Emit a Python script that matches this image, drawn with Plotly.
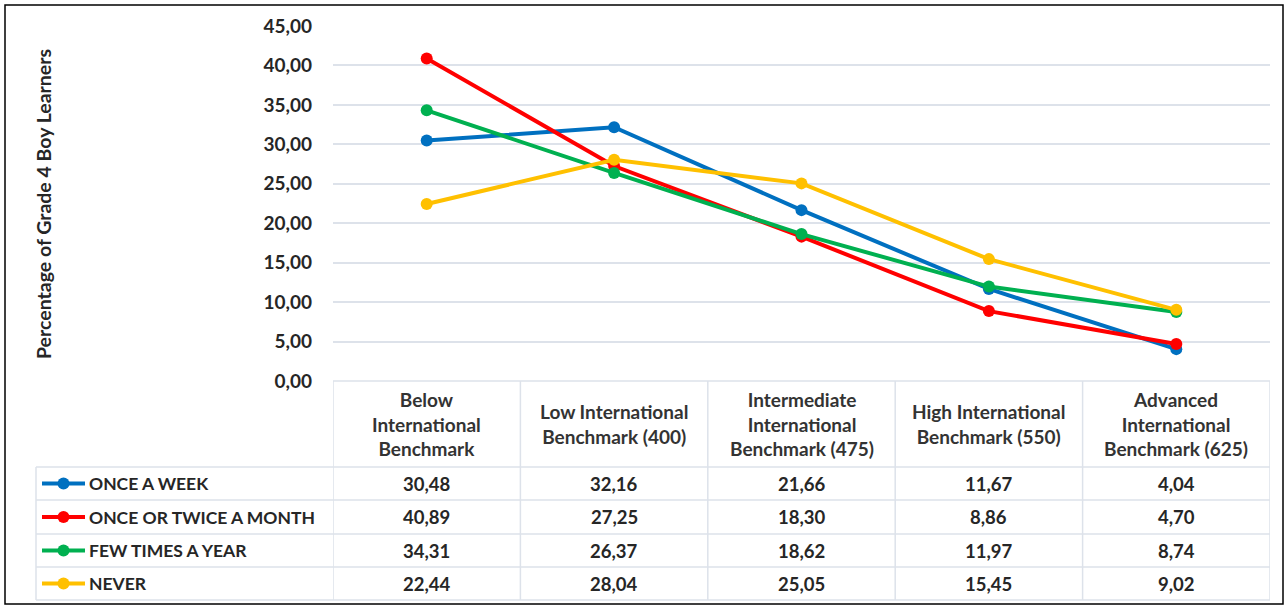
import plotly.graph_objects as go

# Benchmark categories (axis labels shown in the table header)
categories = [
    "Below<br>International<br>Benchmark",
    "Low International<br>Benchmark (400)",
    "Intermediate<br>International<br>Benchmark (475)",
    "High International<br>Benchmark (550)",
    "Advanced<br>International<br>Benchmark (625)",
]

series_names = ["ONCE A WEEK", "ONCE OR TWICE A MONTH", "FEW TIMES A YEAR", "NEVER"]
once_a_week = [30.48, 32.16, 21.66, 11.67, 4.04]
once_or_twice_a_month = [40.89, 27.25, 18.30, 8.86, 4.70]
few_times_a_year = [34.31, 26.37, 18.62, 11.97, 8.74]
never = [22.44, 28.04, 25.05, 15.45, 9.02]
series_values = [once_a_week, once_or_twice_a_month, few_times_a_year, never]
series_colors = ["#0070C0", "#FF0000", "#00B050", "#FFC000"]

y_ticks = [0, 5, 10, 15, 20, 25, 30, 35, 40, 45]

W, H = 1288, 608
FONT = "Lato"
TEXT = "#262626"
GRID = "#DDE2EA"


def px(x):
    return x / W


def py(y):
    return 1 - y / H


plot_left, plot_right = 333, 1270
plot_top, plot_bottom = 26, 381
table_left = 36
row_edges = [467, 500, 534, 567, 600]

fig = go.Figure()
xs = list(range(len(categories)))
for name, vals, col in zip(series_names, series_values, series_colors):
    fig.add_trace(go.Scatter(
        x=xs, y=vals, name=name, mode="lines+markers",
        line=dict(color=col, width=4),
        marker=dict(color=col, size=12),
        showlegend=False, hoverinfo="skip", cliponaxis=False,
    ))

shapes = []
annotations = []

# outer chart frame
shapes.append(dict(type="rect", xref="paper", yref="paper",
                   x0=px(5), x1=px(1283), y0=py(604), y1=py(5),
                   line=dict(color="#000000", width=1.5)))

# data table grid
line_style = dict(color=GRID, width=1.5)
shapes.append(dict(type="line", xref="paper", yref="paper",
                   x0=px(plot_left), x1=px(plot_right), y0=py(plot_bottom), y1=py(plot_bottom),
                   line=line_style))
for ry in row_edges:
    shapes.append(dict(type="line", xref="paper", yref="paper",
                       x0=px(table_left), x1=px(plot_right), y0=py(ry), y1=py(ry),
                       line=line_style))
for i in range(len(categories) + 1):
    shapes.append(dict(type="line", xref="x", yref="paper",
                       x0=i - 0.5, x1=i - 0.5, y0=py(row_edges[-1]), y1=py(plot_bottom),
                       line=line_style))
shapes.append(dict(type="line", xref="paper", yref="paper",
                   x0=px(table_left), x1=px(table_left), y0=py(row_edges[-1]), y1=py(row_edges[0]),
                   line=line_style))

# header labels
for i, cat in enumerate(categories):
    annotations.append(dict(
        xref="x", yref="paper", x=i, y=py((plot_bottom + row_edges[0]) / 2),
        text=cat, showarrow=False, xanchor="center", yanchor="middle",
        font=dict(family=FONT, size=19, color="#333333", weight="bold"),
    ))

# series rows: legend key, name and values
for r, (name, vals, col) in enumerate(zip(series_names, series_values, series_colors)):
    cy = (row_edges[r] + row_edges[r + 1]) / 2
    shapes.append(dict(type="line", xref="paper", yref="paper",
                       x0=px(42), x1=px(85), y0=py(cy), y1=py(cy),
                       line=dict(color=col, width=4)))
    shapes.append(dict(type="circle", xref="paper", yref="paper",
                       x0=px(57.5), x1=px(69.5), y0=py(cy + 6), y1=py(cy - 6),
                       fillcolor=col, line=dict(color=col, width=0)))
    annotations.append(dict(
        xref="paper", yref="paper", x=px(87), y=py(cy), text=name,
        showarrow=False, xanchor="left", yanchor="middle",
        font=dict(family=FONT, size=17.5, color=TEXT, weight="bold"),
    ))
    for i, v in enumerate(vals):
        annotations.append(dict(
            xref="x", yref="paper", x=i, y=py(cy),
            text=f"{v:.2f}".replace(".", ","), showarrow=False,
            xanchor="center", yanchor="middle",
            font=dict(family=FONT, size=18.5, color=TEXT, weight="bold"),
        ))

# vertical axis title
annotations.append(dict(
    xref="paper", yref="paper", x=px(43), y=py(204),
    text="Percentage of Grade 4 Boy Learners", textangle=-90,
    showarrow=False, xanchor="center", yanchor="middle",
    font=dict(family=FONT, size=19.5, color=TEXT, weight="bold"),
))

fig.update_layout(
    width=W, height=H,
    margin=dict(l=0, r=0, t=0, b=0, pad=0, autoexpand=False),
    paper_bgcolor="white", plot_bgcolor="white",
    separators=",.",
    shapes=shapes, annotations=annotations,
    xaxis=dict(
        domain=[px(plot_left), px(plot_right)],
        range=[-0.5, len(categories) - 0.5],
        showticklabels=False, showgrid=False, zeroline=False, showline=False,
        fixedrange=True, automargin=False,
    ),
    yaxis=dict(
        domain=[py(plot_bottom), py(plot_top)],
        range=[0, 45], tickvals=y_ticks, tickformat=".2f",
        showgrid=True, gridcolor=GRID, gridwidth=1.5,
        zeroline=False, showline=False, ticks="", ticklabelstandoff=20,
        tickfont=dict(family=FONT, size=19, color=TEXT, weight="bold"),
        fixedrange=True, automargin=False,
    ),
)

fig.write_html("out.html")
